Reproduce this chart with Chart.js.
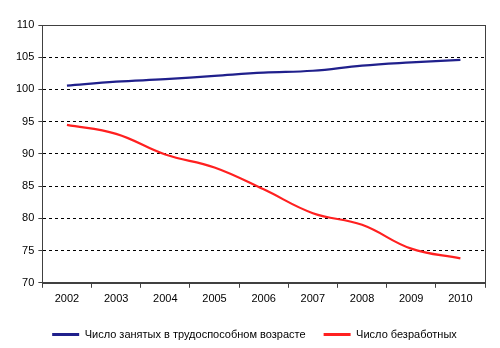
<!DOCTYPE html>
<html>
<head>
<meta charset="utf-8">
<script src="https://cdn.jsdelivr.net/npm/chart.js@4/dist/chart.umd.min.js"></script>
<style>
  html, body { margin: 0; padding: 0; background: #fff; }
  #wrap { width: 500px; height: 348px; }
</style>
</head>
<body>
<div id="wrap"><canvas id="chart"></canvas></div>
<script>
var years = ['2002', '2003', '2004', '2005', '2006', '2007', '2008', '2009', '2010'];
var employed = [100.6, 101.2, 101.6, 102.1, 102.6, 102.9, 103.7, 104.2, 104.6];
var unemployed = [94.5, 93.1, 89.9, 87.9, 84.5, 80.8, 79.0, 75.3, 73.8];
var employedLabel = 'Число занятых в трудоспособном возрасте';
var unemployedLabel = 'Число безработных';

Chart.defaults.font.family = '"Liberation Sans", Arial, sans-serif';
Chart.defaults.font.size = 11;
Chart.defaults.color = '#000';

// solid frame round the plot area, like the Excel chart
var frame = {
    id: 'frame',
    afterLayout: function (chart) {
        // legend in the original sits a little right of centre
        chart.legend.left += 6;
        chart.legend.right += 6;
    },
    afterDatasetsDraw: function (chart) {
        var a = chart.chartArea, ctx = chart.ctx;
        ctx.save();
        ctx.strokeStyle = '#404040';
        ctx.lineWidth = 1;
        ctx.strokeRect(Math.round(a.left) + 0.5, Math.round(a.top) + 0.5,
                       Math.round(a.right - a.left), Math.round(a.bottom - a.top));
        ctx.restore();
    }
};

new Chart(document.getElementById('chart').getContext('2d'), {
    type: 'line',
    data: {
        labels: years,
        datasets: [{
            label: employedLabel,
            data: employed,
            borderColor: '#20208C',
            backgroundColor: '#20208C',
            borderWidth: 2.2,
            pointRadius: 0,
            tension: 0.4
        }, {
            label: unemployedLabel,
            data: unemployed,
            borderColor: '#FF2020',
            backgroundColor: '#FF2020',
            borderWidth: 2.2,
            pointRadius: 0,
            tension: 0.4
        }]
    },
    options: {
        responsive: true,
        maintainAspectRatio: false,
        animation: false,
        layout: { padding: { left: 12, right: 15, top: 25, bottom: -2 } },
        plugins: {
            tooltip: { enabled: false },
            legend: {
                position: 'bottom',
                labels: {
                    boxWidth: 27,
                    boxHeight: 3,
                    padding: 18,
                    generateLabels: function (chart) {
                        var items = Chart.defaults.plugins.legend.labels.generateLabels(chart);
                        items.forEach(function (it) { it.lineWidth = 0; });
                        return items;
                    }
                }
            }
        },
        scales: {
            x: {
                offset: true,
                grid: {
                    offset: true,
                    drawOnChartArea: false,
                    drawTicks: true,
                    tickLength: 5,
                    tickColor: '#404040'
                },
                border: { color: '#404040' },
                ticks: { padding: 5, maxRotation: 0 }
            },
            y: {
                min: 70,
                max: 110,
                ticks: { stepSize: 5, padding: 4 },
                grid: {
                    color: '#000',
                    tickBorderDash: [],
                    tickColor: '#404040',
                    tickLength: 4
                },
                border: { color: '#404040', dash: [3, 3] }
            }
        }
    },
    plugins: [frame]
});
</script>
</body>
</html>
